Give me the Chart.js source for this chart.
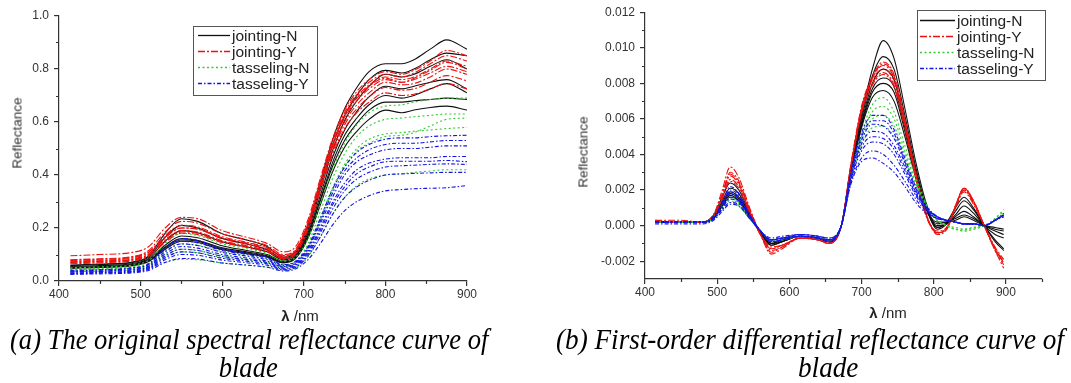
<!DOCTYPE html>
<html><head><meta charset="utf-8">
<script src="https://cdn.jsdelivr.net/npm/chart.js@4/dist/chart.umd.min.js"></script>
<style>
body{margin:0;background:#fff;width:1071px;height:383px;overflow:hidden;position:relative;font-family:"Liberation Sans",Arial,sans-serif}
canvas{position:absolute;top:0}
#cA{left:0}
#cB{left:540px}
.xt{position:absolute;font-size:15px;color:#222;white-space:nowrap;transform:translate(-50%,-50%)}
.yt{position:absolute;font-size:13.5px;color:#333;white-space:nowrap;transform:translate(-50%,-50%) rotate(-90deg)}
.cap{position:absolute;font-family:"Liberation Serif","Times New Roman",serif;font-style:italic;font-size:29px;line-height:1;color:#000;white-space:nowrap;left:0;top:0}
</style></head>
<body>
<canvas id="cA" width="530" height="310"></canvas>
<canvas id="cB" width="531" height="310"></canvas>
<div class="yt" style="left:17px;top:133px">Reflectance</div>
<div class="yt" style="left:583px;top:152px">Reflectance</div>
<div class="xt" style="left:300px;top:315px"><b>λ</b> /nm</div>
<div class="xt" style="left:888px;top:312px"><b>λ</b> /nm</div>
<div class="cap" id="capA1" data-cx="249" data-cy="339" data-w="478">(a) The original spectral reflectance curve of</div>
<div class="cap" id="capA2" data-cx="248" data-cy="367" data-ref="capA1">blade</div>
<div class="cap" id="capB1" data-cx="810" data-cy="339" data-w="508">(b) First-order differential reflectance curve of</div>
<div class="cap" id="capB2" data-cx="828" data-cy="367" data-ref="capB1">blade</div>
<script>
// ---------- DATA ----------
const SERIES_NAMES = ["jointing-N", "jointing-Y", "tasseling-N", "tasseling-Y"];

// (a) original reflectance, wavelengths (nm)
const WL_A = [414,450,490,510,530,550,570,600,630,655,675,690,705,720,735,750,765,780,800,820,835,855,875,900];
const A_jointingN = [
 [.060,.064,.072,.095,.180,.235,.225,.178,.155,.130,.090,.110,.210,.370,.530,.650,.730,.790,.820,.820,.835,.875,.910,.875],
 [.058,.062,.070,.090,.165,.210,.200,.160,.140,.118,.085,.105,.200,.355,.510,.625,.700,.760,.795,.785,.800,.835,.860,.850],
 [.055,.058,.066,.085,.150,.190,.182,.148,.128,.110,.080,.100,.190,.340,.490,.605,.680,.735,.780,.770,.780,.810,.835,.800],
 [.052,.055,.062,.080,.135,.170,.163,.133,.115,.100,.075,.095,.180,.320,.465,.570,.640,.695,.735,.725,.735,.750,.760,.725],
 [.050,.053,.060,.076,.125,.155,.150,.122,.106,.093,.070,.090,.170,.305,.445,.550,.615,.665,.700,.690,.700,.725,.745,.710],
 [.050,.053,.060,.077,.128,.160,.153,.125,.110,.095,.072,.090,.170,.300,.430,.530,.595,.645,.675,.675,.680,.685,.690,.685],
 [.048,.051,.058,.074,.120,.150,.145,.118,.103,.090,.068,.085,.160,.285,.410,.505,.565,.610,.645,.635,.645,.655,.660,.645]
];
const A_jointingY = [
 [.095,.100,.108,.130,.200,.240,.235,.190,.165,.142,.110,.130,.230,.385,.535,.645,.715,.760,.790,.780,.795,.830,.870,.850],
 [.080,.084,.092,.115,.185,.225,.218,.178,.155,.134,.100,.120,.220,.375,.525,.635,.705,.750,.780,.770,.785,.820,.850,.830],
 [.075,.079,.087,.108,.172,.210,.204,.167,.146,.126,.095,.115,.215,.365,.515,.625,.695,.740,.770,.760,.770,.800,.830,.810],
 [.072,.076,.083,.103,.163,.200,.195,.160,.140,.120,.092,.112,.210,.360,.505,.615,.680,.725,.760,.750,.760,.785,.810,.790],
 [.070,.074,.081,.100,.156,.190,.185,.152,.133,.115,.088,.108,.205,.350,.495,.600,.665,.710,.750,.740,.745,.770,.800,.780],
 [.068,.072,.079,.097,.150,.185,.180,.148,.130,.113,.086,.105,.200,.345,.485,.590,.650,.695,.730,.720,.725,.750,.775,.755],
 [.065,.069,.076,.094,.146,.180,.175,.145,.127,.110,.084,.102,.195,.335,.475,.575,.635,.675,.710,.700,.705,.725,.745,.725],
 [.078,.082,.090,.110,.165,.200,.196,.163,.143,.124,.096,.115,.215,.365,.510,.620,.690,.735,.765,.750,.765,.795,.825,.800]
];
const A_tasselingN = [
 [.050,.053,.060,.078,.140,.180,.172,.140,.122,.104,.075,.090,.160,.290,.420,.520,.590,.635,.660,.665,.675,.685,.690,.690],
 [.045,.048,.054,.068,.112,.140,.135,.110,.096,.083,.062,.075,.140,.260,.385,.480,.545,.585,.610,.615,.620,.625,.630,.630],
 [.042,.045,.050,.062,.097,.120,.116,.095,.083,.072,.055,.067,.125,.235,.350,.440,.500,.535,.555,.560,.565,.570,.575,.580],
 [.040,.043,.048,.058,.090,.110,.107,.088,.078,.068,.052,.063,.118,.225,.340,.430,.490,.520,.545,.550,.560,.585,.610,.615],
 [.035,.037,.041,.050,.070,.082,.080,.068,.060,.053,.042,.050,.090,.165,.250,.315,.360,.385,.400,.405,.410,.415,.420,.420]
];
const A_tasselingY = [
 [.040,.043,.050,.065,.125,.160,.153,.122,.105,.090,.062,.075,.130,.235,.345,.430,.485,.515,.535,.540,.540,.545,.548,.550],
 [.038,.041,.048,.062,.118,.150,.144,.115,.100,.086,.058,.072,.125,.225,.330,.415,.465,.495,.515,.520,.520,.525,.530,.530],
 [.035,.038,.044,.057,.110,.140,.134,.108,.094,.080,.055,.068,.120,.215,.315,.400,.450,.475,.495,.500,.500,.505,.510,.510],
 [.033,.036,.042,.054,.102,.130,.124,.100,.087,.075,.052,.064,.112,.200,.295,.370,.420,.445,.460,.465,.465,.465,.470,.470],
 [.030,.033,.038,.050,.094,.120,.115,.093,.081,.070,.048,.060,.106,.190,.285,.355,.405,.430,.450,.452,.452,.452,.455,.450],
 [.028,.031,.036,.047,.087,.110,.106,.086,.075,.065,.045,.056,.100,.180,.270,.340,.385,.410,.430,.435,.437,.440,.442,.440],
 [.027,.030,.034,.044,.080,.100,.097,.079,.069,.060,.042,.052,.094,.165,.250,.315,.355,.380,.400,.404,.406,.408,.410,.410],
 [.025,.027,.031,.040,.070,.085,.083,.068,.060,.052,.038,.046,.080,.140,.210,.265,.300,.322,.340,.345,.348,.350,.352,.360]
];

// (b) first-order differential reflectance
const WL_B = [414,450,480,495,507,518,530,545,560,575,590,615,640,655,672,685,700,715,730,745,760,775,790,805,818,830,842,855,870,885,897];
const B_jointingN = [
 [.0002,.0002,.0002,.0006,.0016,.0024,.0020,.0007,-.0004,-.0011,-.0009,-.0006,-.0007,-.0009,0,.0032,.0062,.0088,.0104,.0094,.0066,.0036,.0012,-.0001,.0002,.0010,.0016,.0010,0,-.0009,-.0014],
 [.0002,.0002,.0002,.0005,.0014,.0021,.0018,.0006,-.0004,-.0011,-.0009,-.0006,-.0007,-.0009,0,.0032,.0060,.0084,.0095,.0088,.0062,.0033,.0010,-.0002,.0001,.0008,.0014,.0009,0,-.0008,-.0013],
 [.0002,.0002,.0002,.0005,.0013,.0019,.0016,.0006,-.0004,-.0010,-.0009,-.0006,-.0007,-.0009,0,.0031,.0058,.0080,.0088,.0082,.0058,.0031,.0009,-.0001,.0001,.0006,.0011,.0007,0,-.0005,-.0007],
 [.0002,.0002,.0002,.0005,.0012,.0018,.0015,.0005,-.0004,-.0010,-.0008,-.0006,-.0007,-.0009,0,.0030,.0057,.0077,.0083,.0078,.0055,.0029,.0009,0,.0001,.0005,.0008,.0005,0,-.0003,-.0005],
 [.0002,.0002,.0002,.0004,.0011,.0016,.0014,.0005,-.0003,-.0010,-.0008,-.0006,-.0007,-.0009,0,.0030,.0056,.0075,.0080,.0075,.0053,.0028,.0009,.0001,.0002,.0004,.0006,.0004,0,-.0002,-.0003],
 [.0002,.0002,.0002,.0004,.0011,.0017,.0014,.0005,-.0003,-.0010,-.0008,-.0006,-.0007,-.0008,0,.0029,.0055,.0072,.0076,.0070,.0050,.0027,.0009,.0002,.0002,.0003,.0005,.0003,0,-.0001,-.0002]
];
const B_jointingY = [
 [.0003,.0003,.0002,.0006,.0020,.0033,.0027,.0010,-.0005,-.0016,-.0013,-.0007,-.0008,-.0010,0,.0034,.0067,.0084,.0092,.0085,.0060,.0030,.0006,-.0004,-.0002,.0011,.0021,.0014,0,-.0013,-.0021],
 [.0002,.0002,.0002,.0006,.0018,.0029,.0024,.0009,-.0005,-.0014,-.0012,-.0007,-.0008,-.0010,0,.0033,.0066,.0083,.0090,.0083,.0058,.0029,.0006,-.0005,-.0002,.0011,.0021,.0014,0,-.0014,-.0022],
 [.0002,.0002,.0002,.0006,.0017,.0028,.0023,.0008,-.0005,-.0013,-.0011,-.0007,-.0008,-.0010,0,.0033,.0065,.0082,.0088,.0081,.0057,.0028,.0005,-.0004,-.0001,.0010,.0020,.0013,0,-.0013,-.0020],
 [.0002,.0002,.0002,.0005,.0016,.0026,.0022,.0008,-.0005,-.0013,-.0011,-.0007,-.0008,-.0010,0,.0032,.0064,.0080,.0086,.0079,.0056,.0027,.0005,-.0004,-.0001,.0010,.0020,.0013,0,-.0014,-.0024],
 [.0002,.0002,.0002,.0005,.0015,.0025,.0021,.0007,-.0005,-.0012,-.0011,-.0007,-.0008,-.0009,0,.0032,.0063,.0079,.0085,.0078,.0055,.0027,.0005,-.0003,-.0001,.0010,.0019,.0012,0,-.0012,-.0019],
 [.0003,.0002,.0002,.0006,.0017,.0030,.0025,.0009,-.0005,-.0015,-.0012,-.0007,-.0008,-.0010,0,.0033,.0066,.0083,.0091,.0084,.0059,.0029,.0006,-.0004,-.0002,.0011,.0021,.0014,0,-.0013,-.0021]
];
const B_tasselingN = [
 [.0002,.0002,.0002,.0005,.0011,.0016,.0013,.0005,-.0003,-.0009,-.0008,-.0006,-.0007,-.0008,0,.0028,.0052,.0068,.0072,.0064,.0045,.0027,.0012,.0003,0,-.0002,-.0003,-.0002,0,.0004,.0009],
 [.0002,.0002,.0002,.0004,.0010,.0015,.0012,.0004,-.0003,-.0009,-.0008,-.0006,-.0007,-.0008,0,.0027,.0050,.0064,.0067,.0060,.0042,.0025,.0011,.0003,0,-.0002,-.0003,-.0002,0,.0004,.0008],
 [.0002,.0002,.0002,.0004,.0009,.0014,.0011,.0004,-.0003,-.0009,-.0008,-.0006,-.0007,-.0008,0,.0026,.0048,.0060,.0062,.0056,.0040,.0024,.0011,.0003,0,-.0002,-.0002,-.0001,0,.0003,.0007],
 [.0002,.0002,.0002,.0004,.0009,.0013,.0011,.0004,-.0003,-.0008,-.0007,-.0006,-.0007,-.0008,0,.0025,.0046,.0055,.0056,.0050,.0037,.0023,.0010,.0003,0,-.0001,-.0002,-.0001,0,.0003,.0006]
];
const B_tasselingY = [
 [.0002,.0002,.0002,.0005,.0013,.0022,.0018,.0006,-.0003,-.0009,-.0008,-.0006,-.0007,-.0009,0,.0030,.0052,.0062,.0062,.0054,.0038,.0022,.0011,.0005,.0003,.0002,.0001,.0001,0,.0003,.0006],
 [.0002,.0002,.0002,.0005,.0012,.0020,.0017,.0006,-.0003,-.0009,-.0008,-.0006,-.0007,-.0009,0,.0029,.0050,.0059,.0059,.0052,.0036,.0021,.0010,.0005,.0003,.0002,.0001,.0001,0,.0003,.0006],
 [.0002,.0002,.0002,.0005,.0012,.0019,.0016,.0006,-.0003,-.0009,-.0008,-.0006,-.0007,-.0008,0,.0028,.0048,.0057,.0056,.0049,.0035,.0020,.0010,.0005,.0003,.0002,.0001,.0001,0,.0003,.0007],
 [.0002,.0002,.0002,.0004,.0011,.0018,.0015,.0005,-.0003,-.0008,-.0007,-.0006,-.0007,-.0008,0,.0027,.0046,.0053,.0052,.0045,.0033,.0019,.0010,.0005,.0003,.0002,.0001,.0001,0,.0003,.0005],
 [.0002,.0002,.0002,.0004,.0010,.0016,.0014,.0005,-.0003,-.0008,-.0007,-.0006,-.0007,-.0008,0,.0026,.0044,.0050,.0049,.0043,.0031,.0018,.0009,.0005,.0003,.0002,.0001,.0001,0,.0003,.0006],
 [.0002,.0002,.0002,.0004,.0010,.0015,.0013,.0005,-.0003,-.0008,-.0007,-.0005,-.0006,-.0008,0,.0025,.0042,.0047,.0046,.0040,.0029,.0017,.0009,.0004,.0003,.0002,.0001,.0001,0,.0003,.0006],
 [.0002,.0002,.0002,.0004,.0009,.0013,.0012,.0004,-.0003,-.0008,-.0007,-.0005,-.0006,-.0007,0,.0024,.0038,.0042,.0040,.0034,.0025,.0015,.0008,.0004,.0003,.0002,.0001,.0001,0,.0003,.0005],
 [.0001,.0001,.0001,.0003,.0008,.0012,.0011,.0004,-.0003,-.0007,-.0006,-.0005,-.0006,-.0007,0,.0023,.0036,.0038,.0035,.0030,.0022,.0013,.0007,.0004,.0003,.0002,.0001,.0001,0,.0003,.0006]
];

// tick values
const XA_MAJOR = [400,500,600,700,800,900];
const XA_MINOR = [450,550,650,750,850];
const YA_MAJOR = [0,0.2,0.4,0.6,0.8,1.0];
const YA_MINOR = [0.1,0.3,0.5,0.7,0.9];
const XB_MAJOR = [400,500,600,700,800,900];
const XB_MINOR = [450,550,650,750,850,950];
const YB_MAJOR = [-0.002,0,0.002,0.004,0.006,0.008,0.010,0.012];
const YB_MINOR = [-0.001,0.001,0.003,0.005,0.007,0.009,0.011];

// ---------- STYLE ----------
const STYLES = [
  {color:'#111111', dash:[], order:4},
  {color:'#ee1111', dash:[7,2,2,2], order:3},
  {color:'#33cc33', dash:[2,2.5], order:2},
  {color:'#1414e6', dash:[4,2,1.5,2], order:1}
];

function buildSets(wl, groups){
  const out = [];
  groups.forEach((curves, gi) => {
    const st = STYLES[gi];
    curves.forEach((c, ci) => {
      out.push({
        label: SERIES_NAMES[gi] + (ci ? ' ' + ci : ''),
        data: wl.map((x, i) => ({x, y: c[i]})),
        borderColor: st.color, borderDash: st.dash, borderWidth: 1.1,
        pointRadius: 0, fill: false, cubicInterpolationMode: 'monotone',
        order: st.order
      });
    });
  });
  return out;
}

const extras = {
  id: 'extras',
  afterDraw(chart, args, o) {
    const ctx = chart.ctx, ca = chart.chartArea;
    const xs = chart.scales.x, ys = chart.scales.y;
    ctx.save();
    ctx.strokeStyle = '#333'; ctx.lineWidth = 1.2; ctx.setLineDash([]);
    ctx.beginPath();
    o.minorX.forEach(v => { const px = Math.round(xs.getPixelForValue(v)) + .5; ctx.moveTo(px, ca.bottom); ctx.lineTo(px, ca.bottom + 3); });
    o.minorY.forEach(v => { const py = Math.round(ys.getPixelForValue(v)) + .5; ctx.moveTo(ca.left, py); ctx.lineTo(ca.left - 3, py); });
    ctx.stroke();
    // legend
    const L = o.legend;
    ctx.strokeStyle = '#555'; ctx.lineWidth = 1;
    ctx.strokeRect(L.x + .5, L.y + .5, L.w, L.h);
    ctx.font = '15.5px "Liberation Sans", Arial, sans-serif';
    ctx.textBaseline = 'middle';
    SERIES_NAMES.forEach((name, i) => {
      const st = STYLES[i];
      const y = Math.round(L.y + L.first + i * L.step) + .5;
      ctx.beginPath(); ctx.setLineDash(st.dash); ctx.strokeStyle = st.color; ctx.lineWidth = 1.3;
      ctx.moveTo(L.x + L.s0, y); ctx.lineTo(L.x + L.s1, y); ctx.stroke();
      ctx.setLineDash([]);
      ctx.fillStyle = '#222';
      ctx.fillText(name, L.x + L.tx, y + 1);
    });
    ctx.restore();
  }
};

function axisCommon(){
  return {
    type: 'linear',
    border: {display: true, color: '#333', width: 1.2},
    grid: {display: true, drawOnChartArea: false, drawTicks: true, tickLength: 5, color: '#333', lineWidth: 1.2},
    ticks: {color: '#333', font: {family: '"Liberation Sans", Arial, sans-serif', size: 12}}
  };
}

function makeChart(id, cfg){
  const x = axisCommon(), y = axisCommon();
  x.min = cfg.xmin; x.max = cfg.xmax;
  x.afterBuildTicks = s => { s.ticks = cfg.xMajor.map(v => ({value: v})); };
  x.afterFit = s => { s.height = cfg.xh; };
  x.ticks.padding = 1; x.ticks.maxRotation = 0; x.ticks.autoSkip = false;
  x.ticks.callback = v => String(v);
  y.min = cfg.ymin; y.max = cfg.ymax;
  y.afterBuildTicks = s => { s.ticks = cfg.yMajor.map(v => ({value: v})); };
  y.afterFit = s => { s.width = cfg.yw; };
  y.ticks.padding = 5; y.ticks.autoSkip = false;
  y.ticks.callback = v => Number(v).toFixed(cfg.ydec);
  return new Chart(document.getElementById(id), {
    type: 'line',
    data: {datasets: buildSets(cfg.wl, cfg.groups)},
    options: {
      responsive: false, animation: false, devicePixelRatio: 1,
      parsing: true, normalized: true,
      layout: {padding: cfg.pad},
      scales: {x, y},
      plugins: {legend: {display: false}, tooltip: {enabled: false}, title: {display: false},
        extras: {minorX: cfg.xMinor, minorY: cfg.yMinor, legend: cfg.legend}}
    },
    plugins: [extras]
  });
}

makeChart('cA', {
  wl: WL_A, groups: [A_jointingN, A_jointingY, A_tasselingN, A_tasselingY],
  xmin: 400, xmax: 900, ymin: 0, ymax: 1.0, ydec: 1,
  xMajor: XA_MAJOR, xMinor: XA_MINOR, yMajor: YA_MAJOR, yMinor: YA_MINOR,
  yw: 59, xh: 29, pad: {left: 0, right: 63, top: 16, bottom: 0},
  legend: {x: 193, y: 26, w: 124, h: 69, first: 9, step: 16, s0: 5, s1: 37, tx: 39}
});
makeChart('cB', {
  wl: WL_B, groups: [B_jointingN, B_jointingY, B_tasselingN, B_tasselingY],
  xmin: 400, xmax: 950, ymin: -0.003, ymax: 0.012, ydec: 3,
  xMajor: XB_MAJOR, xMinor: XB_MINOR, yMajor: YB_MAJOR, yMinor: YB_MINOR,
  yw: 105, xh: 31, pad: {left: 0, right: 29, top: 12, bottom: 0},
  legend: {x: 377, y: 10, w: 128, h: 70, first: 10, step: 16, s0: 3, s1: 38, tx: 40}
});

// caption fitting
const scales = {};
document.querySelectorAll('.cap').forEach(el => {
  const w = el.offsetWidth, h = el.offsetHeight;
  let s;
  if (el.dataset.w) { s = (+el.dataset.w) / w; scales[el.id] = s; }
  else s = scales[el.dataset.ref] || 1;
  el.style.left = (+el.dataset.cx - w / 2) + 'px';
  el.style.top = (+el.dataset.cy - h / 2) + 'px';
  el.style.transform = 'scaleX(' + s + ')';
});
</script>
</body></html>
